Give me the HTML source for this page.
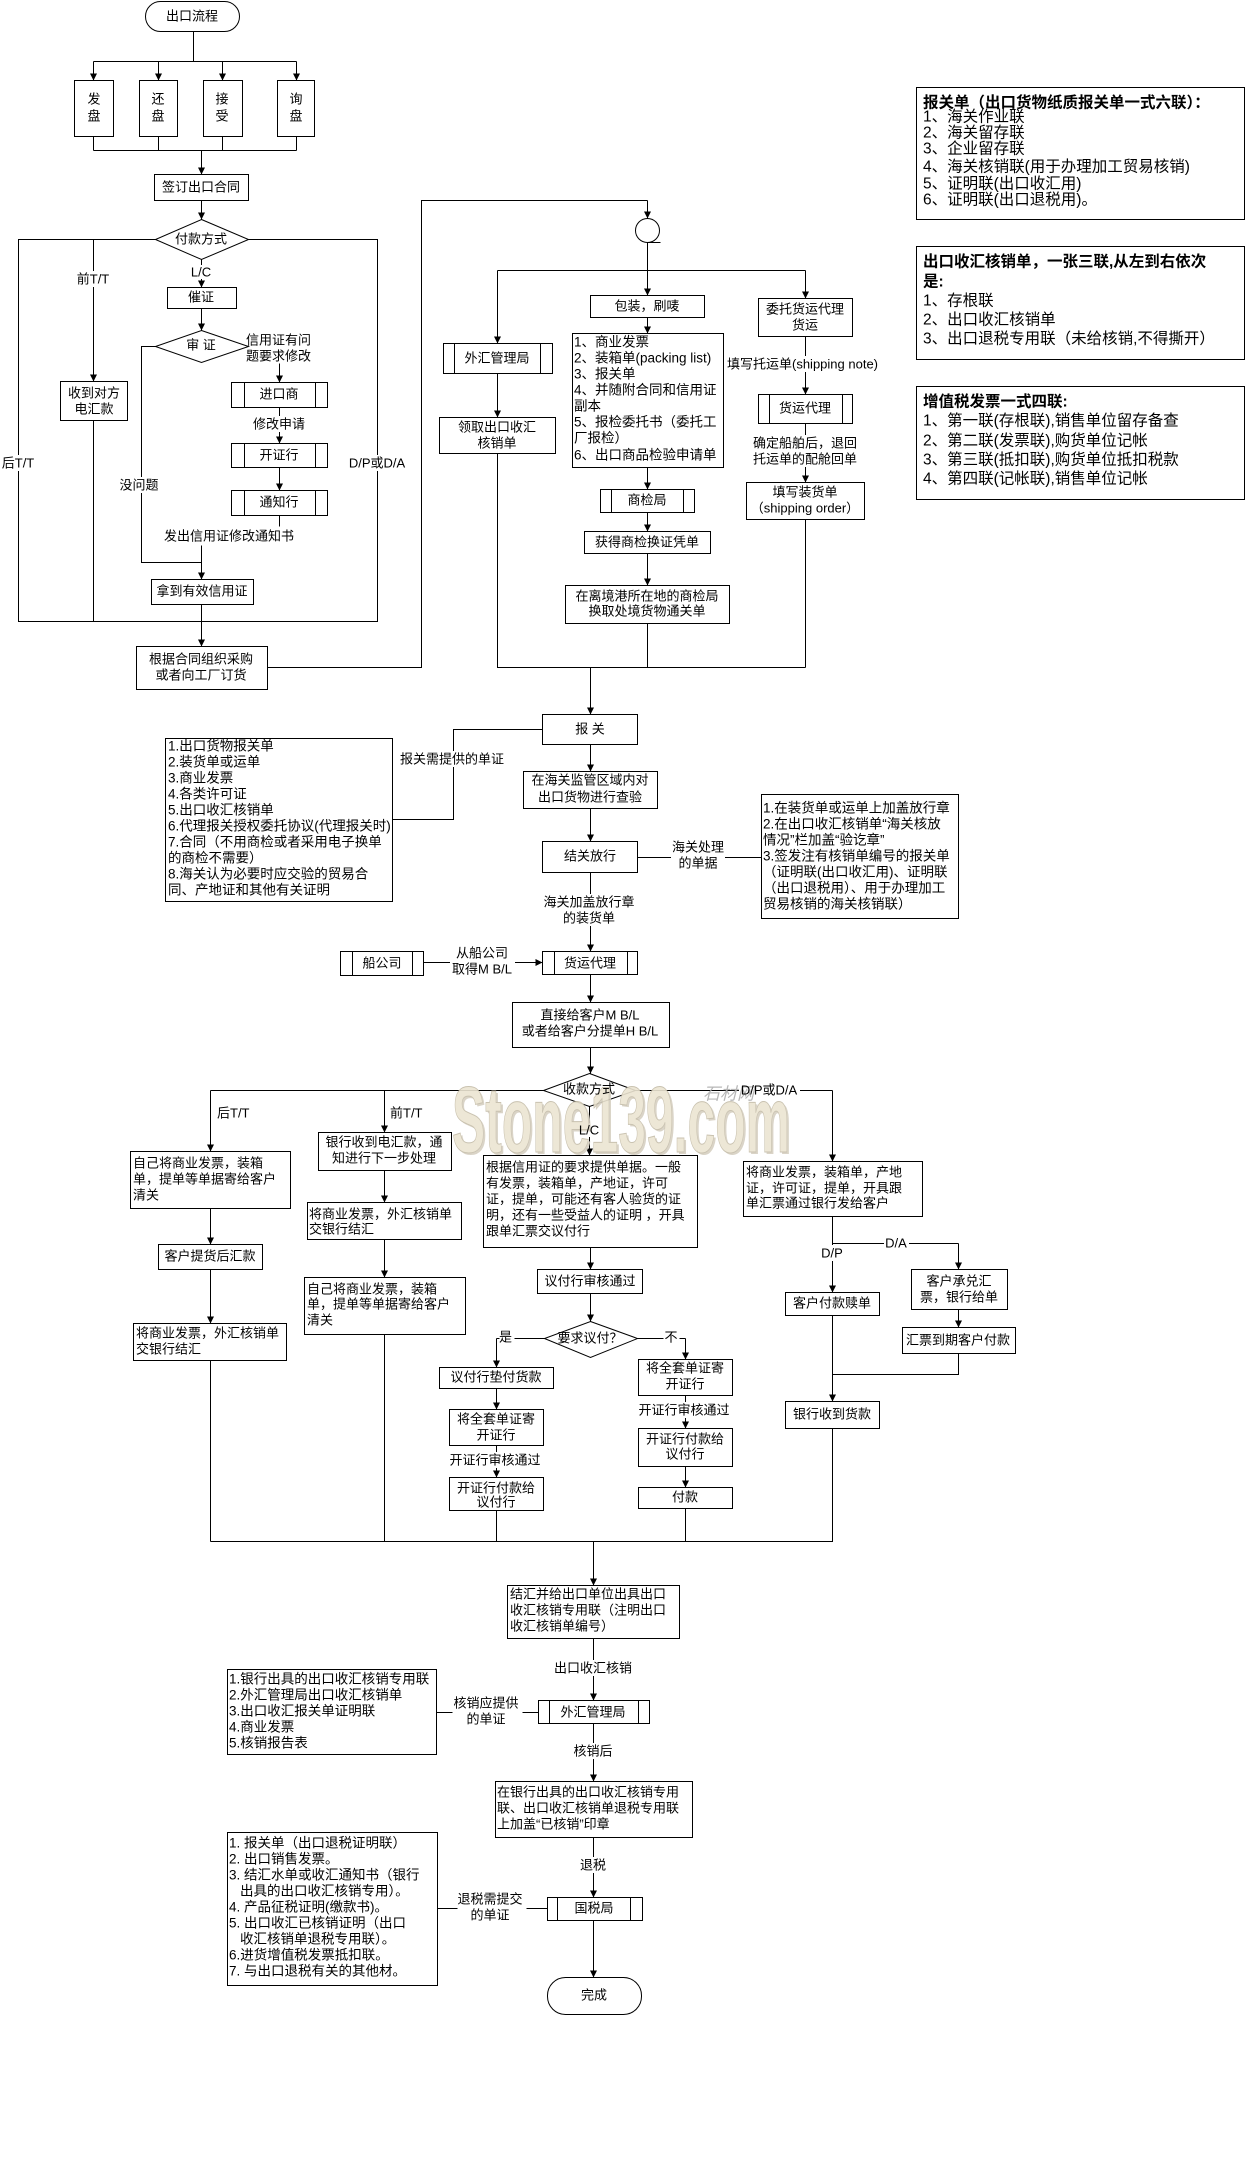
<!DOCTYPE html>
<html><head><meta charset="utf-8">
<style>
html,body{margin:0;padding:0;background:#fff;}
body{width:1246px;height:2163px;overflow:hidden;position:relative;}
svg{position:absolute;left:0;top:0;}
text{font-family:"Liberation Sans","Noto Sans CJK SC",sans-serif;font-size:13px;fill:#000;dominant-baseline:central;}
.c{text-anchor:middle;}
.l{font-size:13.5px;}
.r{font-size:15.5px;}
.b{font-weight:bold;}
</style></head><body>
<svg width="1246" height="2163" viewBox="0 0 1246 2163" xmlns="http://www.w3.org/2000/svg">
<defs>
<marker id="a" viewBox="0 0 8 8" refX="8" refY="4" markerWidth="7" markerHeight="7" markerUnits="userSpaceOnUse" orient="auto"><path d="M0,0 L8,4 L0,8 z" fill="#000"/></marker>
</defs>
<rect width="1246" height="2163" fill="#fff"/>
<g transform="translate(0.5,0.5)" fill="none" stroke="#000" stroke-width="1" shape-rendering="crispEdges">
<!-- top -->
<rect x="145" y="1" width="94" height="30" rx="15" shape-rendering="auto"/>
<path d="M193,31 L193,61 M93,61 L296,61"/>
<path d="M93,61 L93,80" marker-end="url(#a)"/>
<path d="M158,61 L158,80" marker-end="url(#a)"/>
<path d="M222,61 L222,80" marker-end="url(#a)"/>
<path d="M296,61 L296,80" marker-end="url(#a)"/>
<rect x="74" y="80" width="39" height="56"/>
<rect x="139" y="80" width="38" height="56"/>
<rect x="203" y="80" width="39" height="56"/>
<rect x="277" y="80" width="37" height="56"/>
<path d="M93,136 L93,150 M158,136 L158,150 M222,136 L222,150 M296,136 L296,150 M93,150 L296,150"/>
<path d="M201,150 L201,174" marker-end="url(#a)"/>
<rect x="154" y="174" width="94" height="26"/>
<path d="M201,200 L201,219" marker-end="url(#a)"/>
<path d="M201,219 L248,239 L201,259 L155,239 Z" shape-rendering="auto"/>
<path d="M155,239 L18,239 L18,621 L377,621 L377,239 L248,239"/>
<path d="M93,239 L93,381" marker-end="url(#a)"/>
<rect x="60" y="381" width="67" height="39"/>
<path d="M93,420 L93,621"/>
<path d="M201,259 L201,287" marker-end="url(#a)"/>
<rect x="167" y="287" width="69" height="21"/>
<path d="M201,308 L201,330" marker-end="url(#a)"/>
<path d="M201,330 L248,346 L201,362 L155,346 Z" shape-rendering="auto"/>
<path d="M155,346 L141,346 L141,562 L201,562"/>
<path d="M279,363 L279,382" marker-end="url(#a)"/>
<rect x="231" y="382" width="96" height="25"/><path d="M244,382 L244,407 M315,382 L315,407"/>
<path d="M279,407 L279,443" marker-end="url(#a)"/>
<rect x="231" y="443" width="96" height="24"/><path d="M244,443 L244,467 M315,443 L315,467"/>
<path d="M279,467 L279,490" marker-end="url(#a)"/>
<rect x="231" y="490" width="96" height="25"/><path d="M244,490 L244,515 M315,490 L315,515"/>
<path d="M279,515 L279,526"/>
<path d="M201,545 L201,579" marker-end="url(#a)"/>
<rect x="151" y="579" width="102" height="25"/>
<path d="M201,604 L201,646" marker-end="url(#a)"/>
<rect x="136" y="646" width="131" height="43"/>
<path d="M267,667 L421,667 L421,200 L647,200"/>
<path d="M647,200 L647,218" marker-end="url(#a)"/>
<circle cx="647" cy="230" r="12" shape-rendering="auto"/>
<path d="M647,242 L660,242"/>
<path d="M647,242 L647,295" marker-end="url(#a)"/>
<path d="M497,270 L805,270"/>
<path d="M497,270 L497,343" marker-end="url(#a)"/>
<rect x="443" y="343" width="109" height="30"/><path d="M454,343 L454,373 M540,343 L540,373"/>
<path d="M497,373 L497,417" marker-end="url(#a)"/>
<rect x="439" y="417" width="116" height="36"/>
<path d="M497,453 L497,667 L805,667"/>
<rect x="590" y="295" width="114" height="22"/>
<path d="M647,317 L647,333" marker-end="url(#a)"/>
<rect x="572" y="333" width="151" height="134"/>
<path d="M647,467 L647,489" marker-end="url(#a)"/>
<rect x="600" y="489" width="94" height="23"/><path d="M611,489 L611,512 M683,489 L683,512"/>
<path d="M647,512 L647,531" marker-end="url(#a)"/>
<rect x="584" y="531" width="126" height="22"/>
<path d="M647,553 L647,585" marker-end="url(#a)"/>
<rect x="565" y="585" width="164" height="38"/>
<path d="M647,623 L647,667"/>
<path d="M805,270 L805,298" marker-end="url(#a)"/>
<rect x="758" y="298" width="94" height="38"/>
<path d="M805,336 L805,394" marker-end="url(#a)"/>
<rect x="758" y="394" width="94" height="29"/><path d="M769,394 L769,423 M842,394 L842,423"/>
<path d="M805,423 L805,482" marker-end="url(#a)"/>
<rect x="746" y="482" width="118" height="37"/>
<path d="M805,519 L805,667"/>
<path d="M590,667 L590,714" marker-end="url(#a)"/>
<!-- middle -->
<rect x="542" y="714" width="95" height="30"/>
<path d="M542,729 L453,729 L453,819 L392,819"/>
<rect x="165" y="738" width="227" height="163"/>
<path d="M590,744 L590,771" marker-end="url(#a)"/>
<rect x="523" y="771" width="134" height="37"/>
<path d="M590,808 L590,841" marker-end="url(#a)"/>
<rect x="542" y="841" width="95" height="31"/>
<path d="M637,857 L761,857"/>
<rect x="761" y="794" width="197" height="124"/>
<path d="M590,872 L590,951" marker-end="url(#a)"/>
<rect x="542" y="951" width="95" height="23"/><path d="M554,951 L554,974 M627,951 L627,974"/>
<rect x="340" y="951" width="83" height="24"/><path d="M352,951 L352,975 M412,951 L412,975"/>
<path d="M423,962 L542,962" marker-end="url(#a)"/>
<path d="M590,974 L590,1002" marker-end="url(#a)"/>
<rect x="512" y="1002" width="157" height="45"/>
<path d="M590,1047 L590,1073" marker-end="url(#a)"/>
<path d="M589,1073 L635,1090 L589,1106 L543,1090 Z" shape-rendering="auto"/>
<path d="M543,1090 L210,1090"/>
<path d="M210,1090 L210,1151" marker-end="url(#a)"/>
<path d="M384,1090 L384,1132" marker-end="url(#a)"/>
<path d="M635,1090 L832,1090"/>
<path d="M832,1090 L832,1161" marker-end="url(#a)"/>
<path d="M589,1106 L589,1155" marker-end="url(#a)"/>
<!-- left col -->
<rect x="130" y="1151" width="160" height="57"/>
<path d="M210,1208 L210,1244" marker-end="url(#a)"/>
<rect x="158" y="1244" width="104" height="25"/>
<path d="M210,1269 L210,1323" marker-end="url(#a)"/>
<rect x="133" y="1323" width="153" height="37"/>
<path d="M210,1360 L210,1541"/>
<rect x="318" y="1132" width="133" height="38"/>
<path d="M384,1170 L384,1202" marker-end="url(#a)"/>
<rect x="307" y="1202" width="154" height="37"/>
<path d="M384,1239 L384,1277" marker-end="url(#a)"/>
<rect x="304" y="1277" width="161" height="57"/>
<path d="M384,1334 L384,1541"/>
<!-- L/C -->
<rect x="483" y="1155" width="214" height="92"/>
<path d="M590,1247 L590,1269" marker-end="url(#a)"/>
<rect x="537" y="1269" width="105" height="24"/>
<path d="M590,1293 L590,1321" marker-end="url(#a)"/>
<path d="M590,1321 L637,1338 L590,1357 L544,1338 Z" shape-rendering="auto"/>
<path d="M544,1338 L514,1338"/>
<path d="M496,1338 L499,1338"/>
<path d="M496,1338 L496,1367" marker-end="url(#a)"/>
<rect x="439" y="1367" width="114" height="21"/>
<path d="M496,1388 L496,1409" marker-end="url(#a)"/>
<rect x="449" y="1409" width="94" height="36"/>
<path d="M496,1445 L496,1477" marker-end="url(#a)"/>
<rect x="449" y="1477" width="94" height="33"/>
<path d="M496,1510 L496,1541"/>
<path d="M637,1338 L663,1338 M679,1338 L685,1338"/>
<path d="M685,1338 L685,1359" marker-end="url(#a)"/>
<rect x="638" y="1359" width="94" height="36"/>
<path d="M685,1395 L685,1428" marker-end="url(#a)"/>
<rect x="638" y="1428" width="94" height="38"/>
<path d="M685,1466 L685,1487" marker-end="url(#a)"/>
<rect x="638" y="1487" width="94" height="21"/>
<path d="M685,1508 L685,1541"/>
<!-- D/P D/A -->
<rect x="743" y="1161" width="179" height="55"/>
<path d="M832,1216 L832,1292" marker-end="url(#a)"/>
<path d="M832,1243 L958,1243"/>
<path d="M958,1243 L958,1269" marker-end="url(#a)"/>
<rect x="911" y="1269" width="96" height="40"/>
<path d="M958,1309 L958,1327" marker-end="url(#a)"/>
<rect x="902" y="1327" width="113" height="26"/>
<path d="M958,1353 L958,1374 L832,1374"/>
<rect x="785" y="1292" width="94" height="23"/>
<path d="M832,1315 L832,1401" marker-end="url(#a)"/>
<rect x="785" y="1401" width="94" height="27"/>
<path d="M832,1428 L832,1541 L210,1541"/>
<path d="M593,1541 L593,1585" marker-end="url(#a)"/>
<!-- bottom -->
<rect x="507" y="1585" width="172" height="53"/>
<path d="M593,1638 L593,1700" marker-end="url(#a)"/>
<rect x="538" y="1700" width="111" height="23"/><path d="M549,1700 L549,1723 M638,1700 L638,1723"/>
<path d="M538,1712 L522,1712 M452,1712 L436,1712"/>
<rect x="227" y="1669" width="209" height="85"/>
<path d="M593,1723 L593,1781" marker-end="url(#a)"/>
<rect x="495" y="1781" width="197" height="56"/>
<path d="M593,1837 L593,1897" marker-end="url(#a)"/>
<rect x="547" y="1897" width="95" height="23"/><path d="M557,1897 L557,1920 M630,1897 L630,1920"/>
<path d="M547,1908 L526,1908 M457,1908 L437,1908"/>
<rect x="227" y="1832" width="210" height="153"/>
<path d="M593,1920 L593,1977" marker-end="url(#a)"/>
<rect x="547" y="1977" width="94" height="37" rx="18" shape-rendering="auto"/>
<!-- right panel -->
<rect x="916" y="87" width="328" height="132"/>
<rect x="916" y="246" width="328" height="113"/>
<rect x="916" y="386" width="328" height="113"/>
</g>
<!-- label backgrounds -->
<g fill="#fff">
<rect x="76" y="271" width="34" height="16"/>
<rect x="191" y="265" width="21" height="14"/>
<rect x="1" y="455" width="35" height="16"/>
<rect x="346" y="455" width="61" height="16"/>
<rect x="251" y="416" width="55" height="16"/>
<rect x="119" y="477" width="41" height="16"/>
<rect x="726" y="356" width="158" height="16"/>
<rect x="751" y="435" width="108" height="32"/>
<rect x="398" y="751" width="109" height="16"/>
<rect x="671" y="839" width="54" height="32"/>
<rect x="542" y="894" width="95" height="32"/>
<rect x="450" y="945" width="65" height="32"/>
<rect x="739" y="1082" width="61" height="16"/>
<rect x="580" y="1123" width="20" height="14"/>
<rect x="884" y="1235" width="25" height="16"/>
<rect x="820" y="1245" width="25" height="16"/>
<rect x="448" y="1452" width="95" height="16"/>
<rect x="637" y="1402" width="95" height="16"/>
<rect x="552" y="1660" width="83" height="16"/>
<rect x="572" y="1743" width="43" height="16"/>
<rect x="579" y="1857" width="29" height="16"/>
</g>
<!-- texts top -->
<text class="c" x="192" y="16">出口流程</text>
<text class="c" x="94" y="99">发</text><text class="c" x="94" y="116">盘</text>
<text class="c" x="158" y="99">还</text><text class="c" x="158" y="116">盘</text>
<text class="c" x="222" y="99">接</text><text class="c" x="222" y="116">受</text>
<text class="c" x="296" y="99">询</text><text class="c" x="296" y="116">盘</text>
<text class="c" x="201" y="187">签订出口合同</text>
<text class="c" x="201" y="239">付款方式</text>
<text class="c" x="93" y="279">前T/T</text>
<text class="c" x="201" y="272">L/C</text>
<text class="c" x="18" y="463">后T/T</text>
<text class="c" x="377" y="463">D/P或D/A</text>
<text class="c" x="94" y="393">收到对方</text>
<text class="c" x="94" y="409">电汇款</text>
<text class="c" x="201" y="297">催证</text>
<text class="c" x="201" y="345">审 证</text>
<text x="246" y="340">信用证有问</text>
<text x="246" y="356">题要求修改</text>
<text class="c" x="279" y="394">进口商</text>
<text class="c" x="279" y="424">修改申请</text>
<text class="c" x="279" y="455">开证行</text>
<text class="c" x="279" y="502">通知行</text>
<text class="c" x="229" y="536">发出信用证修改通知书</text>
<text class="c" x="139" y="485">没问题</text>
<text class="c" x="202" y="591">拿到有效信用证</text>
<text class="c" x="201" y="659">根据合同组织采购</text>
<text class="c" x="201" y="675">或者向工厂订货</text>
<text class="c" x="497" y="358">外汇管理局</text>
<text class="c" x="497" y="427">领取出口收汇</text>
<text class="c" x="497" y="443">核销单</text>
<text class="c" x="647" y="306">包装，刷唛</text>
<text class="l" x="574" y="342">1、商业发票</text>
<text class="l" x="574" y="358">2、装箱单(packing list)</text>
<text class="l" x="574" y="374">3、报关单</text>
<text class="l" x="574" y="390">4、并随附合同和信用证</text>
<text class="l" x="574" y="406">副本</text>
<text class="l" x="574" y="422">5、报检委托书（委托工</text>
<text class="l" x="574" y="438">厂报检）</text>
<text class="l" x="574" y="455">6、出口商品检验申请单</text>
<text class="c" x="647" y="500">商检局</text>
<text class="c" x="647" y="542">获得商检换证凭单</text>
<text class="c" x="647" y="596">在离境港所在地的商检局</text>
<text class="c" x="647" y="611">换取处境货物通关单</text>
<text class="c" x="805" y="309">委托货运代理</text>
<text class="c" x="805" y="325">货运</text>
<text x="727" y="364">填写托运单(shipping note)</text>
<text class="c" x="805" y="408">货运代理</text>
<text class="c" x="805" y="443">确定船舶后，退回</text>
<text class="c" x="805" y="459">托运单的配舱回单</text>
<text class="c" x="805" y="492">填写装货单</text>
<text class="c" x="805" y="508">（shipping order）</text>
<!-- middle texts -->
<text class="c" x="590" y="729">报 关</text>
<text class="c" x="452" y="759">报关需提供的单证</text>
<text class="l" x="168" y="746">1.出口货物报关单</text>
<text class="l" x="168" y="762">2.装货单或运单</text>
<text class="l" x="168" y="778">3.商业发票</text>
<text class="l" x="168" y="794">4.各类许可证</text>
<text class="l" x="168" y="810">5.出口收汇核销单</text>
<text class="l" x="168" y="826">6.代理报关授权委托协议(代理报关时)</text>
<text class="l" x="168" y="842">7.合同（不用商检或者采用电子换单</text>
<text class="l" x="168" y="858">的商检不需要）</text>
<text class="l" x="168" y="874">8.海关认为必要时应交验的贸易合</text>
<text class="l" x="168" y="890">同、产地证和其他有关证明</text>
<text class="c" x="590" y="780">在海关监管区域内对</text>
<text class="c" x="590" y="797">出口货物进行查验</text>
<text class="c" x="590" y="856">结关放行</text>
<text class="c" x="698" y="847">海关处理</text>
<text class="c" x="698" y="863">的单据</text>
<text class="l" x="763" y="808">1.在装货单或运单上加盖放行章</text>
<text class="l" x="763" y="824">2.在出口收汇核销单“海关核放</text>
<text class="l" x="763" y="840">情况”栏加盖“验讫章”</text>
<text class="l" x="763" y="856">3.签发注有核销单编号的报关单</text>
<text class="l" x="763" y="872">（证明联(出口收汇用)、证明联</text>
<text class="l" x="763" y="888">（出口退税用）、用于办理加工</text>
<text class="l" x="763" y="904">贸易核销的海关核销联）</text>
<text class="c" x="589" y="902">海关加盖放行章</text>
<text class="c" x="589" y="918">的装货单</text>
<text class="c" x="590" y="963">货运代理</text>
<text class="c" x="382" y="963">船公司</text>
<text class="c" x="482" y="953">从船公司</text>
<text class="c" x="482" y="969">取得M B/L</text>
<text class="c" x="590" y="1015">直接给客户M B/L</text>
<text class="c" x="590" y="1031">或者给客户分提单H B/L</text>
<!-- watermark -->
<g opacity="0.9">
<text x="454" y="1154" textLength="338" lengthAdjust="spacingAndGlyphs" style="font-family:'Liberation Sans',sans-serif;font-weight:bold;font-size:94px;fill:#d6d0c2;dominant-baseline:alphabetic;">Stone139.com</text>
<text x="452" y="1152" textLength="338" lengthAdjust="spacingAndGlyphs" style="font-family:'Liberation Sans',sans-serif;font-weight:bold;font-size:94px;fill:#ece5d2;stroke:#c4bca8;stroke-width:1;dominant-baseline:alphabetic;">Stone139.com</text>
<text x="703" y="1092" style="font-family:'Noto Sans CJK SC',sans-serif;font-size:17px;font-style:italic;fill:#b0b0b0;">石材网</text>
</g>
<text class="c" x="589" y="1089">收款方式</text>
<text class="c" x="769" y="1090">D/P或D/A</text>
<text class="c" x="589" y="1130">L/C</text>
<text x="217" y="1113">后T/T</text>
<text x="390" y="1113">前T/T</text>
<text x="133" y="1163">自己将商业发票，装箱</text>
<text x="133" y="1179">单，提单等单据寄给客户</text>
<text x="133" y="1195">清关</text>
<text class="c" x="210" y="1256">客户提货后汇款</text>
<text x="136" y="1333">将商业发票，外汇核销单</text>
<text x="136" y="1349">交银行结汇</text>
<text class="c" x="384" y="1142">银行收到电汇款，通</text>
<text class="c" x="384" y="1158">知进行下一步处理</text>
<text x="309" y="1214">将商业发票，外汇核销单</text>
<text x="309" y="1229">交银行结汇</text>
<text x="307" y="1289">自己将商业发票，装箱</text>
<text x="307" y="1304">单，提单等单据寄给客户</text>
<text x="307" y="1320">清关</text>
<text x="486" y="1167">根据信用证的要求提供单据。一般</text>
<text x="486" y="1183">有发票，装箱单，产地证，许可</text>
<text x="486" y="1199">证，提单，可能还有客人验货的证</text>
<text x="486" y="1215">明，还有一些受益人的证明 ，开具</text>
<text x="486" y="1231">跟单汇票交议付行</text>
<text class="c" x="590" y="1281">议付行审核通过</text>
<text class="c" x="590" y="1338">要求议付？</text>
<text x="499" y="1337">是</text>
<text class="c" x="671" y="1337">不</text>
<text class="c" x="496" y="1377">议付行垫付货款</text>
<text class="c" x="496" y="1419">将全套单证寄</text>
<text class="c" x="496" y="1435">开证行</text>
<text class="c" x="495" y="1460">开证行审核通过</text>
<text class="c" x="496" y="1488">开证行付款给</text>
<text class="c" x="496" y="1502">议付行</text>
<text class="c" x="685" y="1368">将全套单证寄</text>
<text class="c" x="685" y="1384">开证行</text>
<text class="c" x="684" y="1410">开证行审核通过</text>
<text class="c" x="685" y="1439">开证行付款给</text>
<text class="c" x="685" y="1454">议付行</text>
<text class="c" x="685" y="1497">付款</text>
<text x="746" y="1172">将商业发票，装箱单，产地</text>
<text x="746" y="1188">证，许可证，提单，开具跟</text>
<text x="746" y="1203">单汇票通过银行发给客户</text>
<text class="c" x="896" y="1243">D/A</text>
<text class="c" x="832" y="1253">D/P</text>
<text class="c" x="959" y="1281">客户承兑汇</text>
<text class="c" x="959" y="1297">票，银行给单</text>
<text class="c" x="958" y="1340">汇票到期客户付款</text>
<text class="c" x="832" y="1303">客户付款赎单</text>
<text class="c" x="832" y="1414">银行收到货款</text>
<!-- bottom texts -->
<text x="510" y="1594">结汇并给出口单位出具出口</text>
<text x="510" y="1610">收汇核销专用联（注明出口</text>
<text x="510" y="1626">收汇核销单编号）</text>
<text class="c" x="593" y="1668">出口收汇核销</text>
<text class="c" x="593" y="1712">外汇管理局</text>
<text class="c" x="486" y="1703">核销应提供</text>
<text class="c" x="486" y="1719">的单证</text>
<text class="l" x="229" y="1679">1.银行出具的出口收汇核销专用联</text>
<text class="l" x="229" y="1695">2.外汇管理局出口收汇核销单</text>
<text class="l" x="229" y="1711">3.出口收汇报关单证明联</text>
<text class="l" x="229" y="1727">4.商业发票</text>
<text class="l" x="229" y="1743">5.核销报告表</text>
<text class="c" x="593" y="1751">核销后</text>
<text x="497" y="1792">在银行出具的出口收汇核销专用</text>
<text x="497" y="1808">联、出口收汇核销单退税专用联</text>
<text x="497" y="1824">上加盖“已核销”印章</text>
<text class="c" x="593" y="1865">退税</text>
<text class="c" x="594" y="1908">国税局</text>
<text class="c" x="490" y="1899">退税需提交</text>
<text class="c" x="490" y="1915">的单证</text>
<text class="l" x="229" y="1843">1. 报关单（出口退税证明联）</text>
<text class="l" x="229" y="1859">2. 出口销售发票。</text>
<text class="l" x="229" y="1875">3. 结汇水单或收汇通知书（银行</text>
<text class="l" x="240" y="1891">出具的出口收汇核销专用）。</text>
<text class="l" x="229" y="1907">4. 产品征税证明(缴款书)。</text>
<text class="l" x="229" y="1923">5. 出口收汇已核销证明（出口</text>
<text class="l" x="240" y="1939">收汇核销单退税专用联）。</text>
<text class="l" x="229" y="1955">6.进货增值税发票抵扣联。</text>
<text class="l" x="229" y="1971">7. 与出口退税有关的其他材。</text>
<text class="c" x="594" y="1995">完成</text>
<!-- right panel texts -->
<text class="r b" x="923" y="103">报关单（出口货物纸质报关单一式六联）：</text>
<text class="r" x="923" y="117">1、海关作业联</text>
<text class="r" x="923" y="133">2、海关留存联</text>
<text class="r" x="923" y="149">3、企业留存联</text>
<text class="r" x="923" y="167">4、海关核销联(用于办理加工贸易核销)</text>
<text class="r" x="923" y="184">5、证明联(出口收汇用)</text>
<text class="r" x="923" y="200">6、证明联(出口退税用)。</text>
<text class="r b" x="923" y="262">出口收汇核销单，一张三联,从左到右依次</text>
<text class="r b" x="923" y="282">是:</text>
<text class="r" x="923" y="301">1、存根联</text>
<text class="r" x="923" y="320">2、出口收汇核销单</text>
<text class="r" x="923" y="339">3、出口退税专用联（未给核销,不得撕开）</text>
<text class="r b" x="923" y="402">增值税发票一式四联:</text>
<text class="r" x="923" y="421">1、第一联(存根联),销售单位留存备查</text>
<text class="r" x="923" y="441">2、第二联(发票联),购货单位记帐</text>
<text class="r" x="923" y="460">3、第三联(抵扣联),购货单位抵扣税款</text>
<text class="r" x="923" y="479">4、第四联(记帐联),销售单位记帐</text>
</svg>
</body></html>
